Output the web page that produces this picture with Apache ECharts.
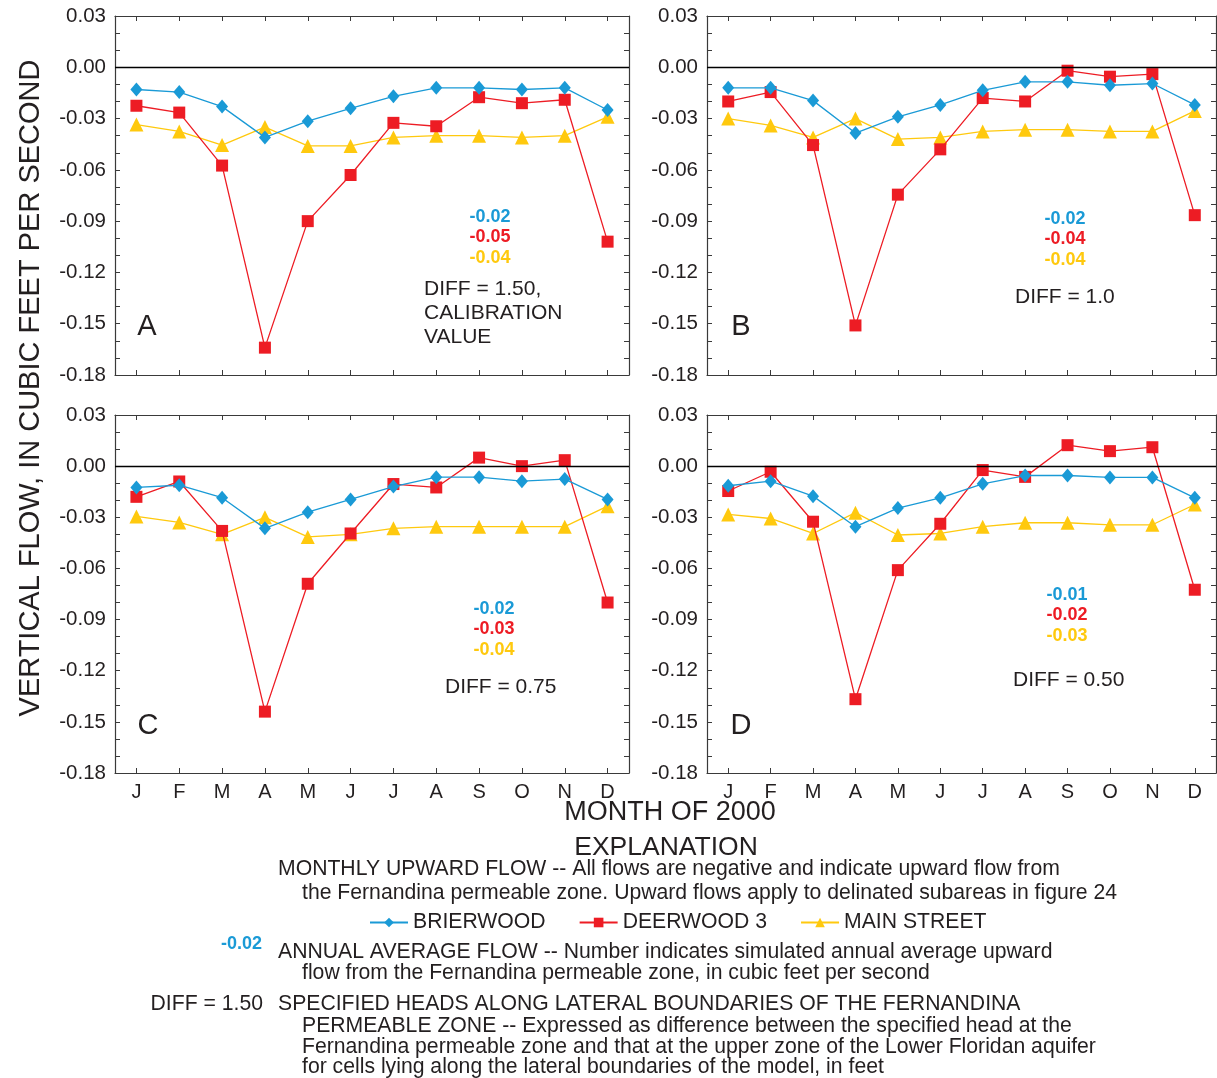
<!DOCTYPE html>
<html>
<head>
<meta charset="utf-8">
<script src="https://cdn.jsdelivr.net/npm/echarts@6/dist/echarts.min.js"></script>
<style>
html,body{margin:0;padding:0;background:#fff;}
#chart{width:1217px;height:1078px;}
</style>
</head>
<body>
<div id="chart"></div>
<script>
// ---------- data ----------
const months = ['J','F','M','A','M','J','J','A','S','O','N','D'];
const yTicks = [-0.18,-0.15,-0.12,-0.09,-0.06,-0.03,0.00,0.03];

// Panel A (DIFF = 1.50)
const brierA = [-0.013,-0.0145,-0.023,-0.041,-0.0315,-0.024,-0.017,-0.012,-0.012,-0.013,-0.012,-0.025];
const deerA  = [-0.0225,-0.0265,-0.0575,-0.164,-0.090,-0.063,-0.0325,-0.0345,-0.0175,-0.021,-0.019,-0.102];
const mainA  = [-0.0335,-0.0375,-0.0455,-0.035,-0.046,-0.046,-0.041,-0.040,-0.040,-0.041,-0.040,-0.029];
// Panel B (DIFF = 1.0)
const brierB = [-0.012,-0.012,-0.0195,-0.0385,-0.029,-0.022,-0.0135,-0.0085,-0.0085,-0.0105,-0.0095,-0.022];
const deerB  = [-0.020,-0.0145,-0.0455,-0.151,-0.0745,-0.048,-0.018,-0.020,-0.002,-0.0055,-0.004,-0.0865];
const mainB  = [-0.030,-0.034,-0.041,-0.030,-0.042,-0.041,-0.0375,-0.0365,-0.0365,-0.0375,-0.0375,-0.0255];
// Panel C (DIFF = 0.75)
const brierC = [-0.0125,-0.0112,-0.0185,-0.0365,-0.027,-0.0195,-0.012,-0.0065,-0.0065,-0.0088,-0.0076,-0.0195];
const deerC  = [-0.018,-0.009,-0.038,-0.144,-0.069,-0.0395,-0.0105,-0.0125,0.005,0.0,0.0035,-0.080];
const mainC  = [-0.0295,-0.033,-0.040,-0.030,-0.0415,-0.040,-0.0365,-0.0355,-0.0355,-0.0355,-0.0355,-0.0235];
// Panel D (DIFF = 0.50)
const brierD = [-0.0115,-0.0088,-0.0176,-0.0355,-0.0246,-0.0186,-0.0104,-0.0055,-0.0055,-0.0066,-0.0066,-0.0186];
const deerD  = [-0.0146,-0.0033,-0.0326,-0.1367,-0.061,-0.0338,-0.0023,-0.0063,0.0123,0.0088,0.0111,-0.0725];
const mainD  = [-0.0283,-0.0307,-0.0395,-0.0273,-0.0404,-0.0395,-0.0355,-0.0332,-0.0332,-0.0344,-0.0344,-0.0225];

const panelLetters = ['A','B','C','D'];
const avgBrier = ['-0.02','-0.02','-0.02','-0.01'];
const avgDeer  = ['-0.05','-0.04','-0.03','-0.02'];
const avgMain  = ['-0.04','-0.04','-0.04','-0.03'];
const diffText = ['DIFF = 1.50,\nCALIBRATION\nVALUE','DIFF = 1.0','DIFF = 0.75','DIFF = 0.50'];

const seriesNames = ['BRIERWOOD','DEERWOOD 3','MAIN STREET'];
const panelData = [[brierA,deerA,mainA],[brierB,deerB,mainB],[brierC,deerC,mainC],[brierD,deerD,mainD]];

// ---------- styles / layout ----------
const FONT = 'Liberation Sans, Arial, Helvetica, sans-serif';
const TXT = '#231f20';
const AX = '#3a3a3a';
const colors = ['#1a9ad6','#ed1c24','#ffc90e'];
const symbols = ['diamond','rect','triangle'];
const symSizes = [[12,14],12,14];

const grids = [
  {left:115, top:16,  width:514, height:359},
  {left:707, top:16,  width:509, height:359},
  {left:115, top:415, width:514, height:358},
  {left:707, top:415, width:509, height:358}
];

const xAxes = [], yAxes = [], series = [];
grids.forEach((g, i) => {
  const bottomPanel = i >= 2;
  xAxes.push({
    type:'category', gridIndex:i, data:months, position:'bottom', boundaryGap:true,
    axisLine:{show:true, onZero:false, lineStyle:{color:AX, width:1.2}},
    axisTick:{show:true, inside:true, alignWithLabel:true, length:5, lineStyle:{color:AX}},
    axisLabel:{show:bottomPanel, color:TXT, fontSize:20, fontFamily:FONT, margin:9, interval:0},
    splitLine:{show:false}
  });
  xAxes.push({
    type:'category', gridIndex:i, data:months, position:'top', boundaryGap:true,
    axisLine:{show:true, onZero:false, lineStyle:{color:AX, width:1.2}},
    axisTick:{show:true, inside:true, alignWithLabel:true, length:5, lineStyle:{color:AX}},
    axisLabel:{show:false}, splitLine:{show:false}
  });
  const yBase = {
    type:'value', gridIndex:i, min:yTicks[0], max:yTicks[yTicks.length-1], interval:0.03,
    axisLine:{show:true, onZero:false, lineStyle:{color:AX, width:1.2}},
    axisTick:{show:true, inside:true, length:5, lineStyle:{color:AX}},
    minorTick:{show:true, splitNumber:3, length:5, lineStyle:{color:AX}},
    splitLine:{show:false}, minorSplitLine:{show:false}
  };
  yAxes.push(Object.assign({}, yBase, {
    position:'left',
    axisLabel:{show:true, color:TXT, fontSize:20.5, fontFamily:FONT, margin:9,
      formatter: v => (Math.abs(v) < 1e-9 ? '0.00' : v.toFixed(2))}
  }));
  yAxes.push(Object.assign({}, yBase, {position:'right', axisLabel:{show:false}}));

  panelData[i].forEach((arr, k) => {
    const s = {
      name: seriesNames[k], type:'line', xAxisIndex:i*2, yAxisIndex:i*2,
      data: arr, symbol: symbols[k], symbolSize: symSizes[k], showSymbol:true,
      lineStyle:{color:colors[k], width:1.3}, itemStyle:{color:colors[k]},
      z: k === 1 ? 4 : (k === 0 ? 5 : 3), animation:false, silent:true
    };
    if (k === 2) {
      s.markLine = {
        silent:true, symbol:['none','none'], label:{show:false},
        lineStyle:{color:'#000', width:1.3, type:'solid'},
        data:[{yAxis:0}]
      };
    }
    series.push(s);
  });
});

// ---------- text annotations ----------
const graphics = [];
function txt(x, y, t, opt) {
  graphics.push({type:'text', x:x, y:y, silent:true,
    style:Object.assign({text:t, fill:TXT, fontFamily:FONT, fontSize:21}, opt||{})});
}
const avgPos = [[490,217],[1065,219],[494,609],[1067,595]];
const diffPos = [[424,289],[1015,297],[445,687],[1013,680]];
const letterPos = [[147,327],[741,327],[148,726],[741,726]];
for (let i = 0; i < 4; i++) {
  const [ax, ay] = avgPos[i];
  const b = {fontWeight:'bold', fontSize:18, align:'center', verticalAlign:'middle'};
  txt(ax, ay, avgBrier[i], Object.assign({fill:colors[0]}, b));
  txt(ax, ay+20.5, avgDeer[i], Object.assign({fill:colors[1]}, b));
  txt(ax, ay+41, avgMain[i], Object.assign({fill:colors[2]}, b));
  const [dx, dy] = diffPos[i];
  txt(dx, dy-12, diffText[i], {fontSize:21, lineHeight:24, align:'left', verticalAlign:'top'});
  const [lx, ly] = letterPos[i];
  txt(lx, ly, panelLetters[i], {fontSize:29, align:'center', verticalAlign:'middle'});
}
// axis titles
graphics.push({type:'text', x:31, y:388, rotation:Math.PI/2, silent:true,
  style:{text:'VERTICAL FLOW, IN CUBIC FEET PER SECOND', fill:TXT, fontFamily:FONT, fontSize:29,
    align:'center', verticalAlign:'middle'}});
txt(670, 813, 'MONTH OF 2000', {fontSize:27, align:'center', verticalAlign:'middle'});
// explanation
txt(666, 848, 'EXPLANATION', {fontSize:26.5, align:'center', verticalAlign:'middle'});
const ex = {fontSize:21.2, align:'left', verticalAlign:'middle'};
txt(278, 869, 'MONTHLY UPWARD FLOW -- All flows are negative and indicate upward flow from', ex);
txt(302, 893, 'the Fernandina permeable zone. Upward flows apply to delinated subareas in figure 24', ex);
txt(262, 944, '-0.02', {fill:colors[0], fontWeight:'bold', fontSize:18, align:'right', verticalAlign:'middle'});
txt(278, 952, 'ANNUAL AVERAGE FLOW -- Number indicates simulated annual average upward', ex);
txt(302, 973, 'flow from the Fernandina permeable zone, in cubic feet per second', ex);
txt(263, 1004, 'DIFF = 1.50', {fontSize:21.2, align:'right', verticalAlign:'middle'});
txt(278, 1004, 'SPECIFIED HEADS ALONG LATERAL BOUNDARIES OF THE FERNANDINA', ex);
txt(302, 1026, 'PERMEABLE ZONE -- Expressed as difference between the specified head at the', ex);
txt(302, 1047, 'Fernandina permeable zone and that at the upper zone of the Lower Floridan aquifer', ex);
txt(302, 1067, 'for cells lying along the lateral boundaries of the model, in feet', ex);

const chart = echarts.init(document.getElementById('chart'), null, {renderer:'canvas'});
chart.setOption({
  backgroundColor:'#fff',
  animation:false,
  textStyle:{fontFamily:FONT},
  grid: grids.map(g => Object.assign({containLabel:false}, g)),
  xAxis: xAxes,
  yAxis: yAxes,
  legend:{
    show:true, data:seriesNames, left:364, top:907, itemGap:33, itemWidth:38, itemHeight:12,
    selectedMode:false,
    textStyle:{color:TXT, fontSize:21.2, fontFamily:FONT}
  },
  series: series,
  graphic: graphics
});
</script>
</body>
</html>
